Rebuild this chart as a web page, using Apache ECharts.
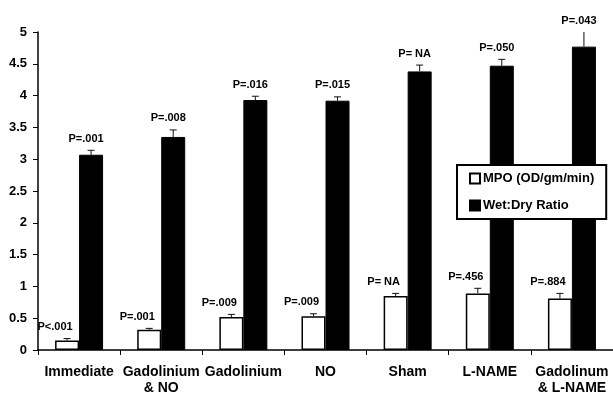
<!DOCTYPE html>
<html>
<head>
<meta charset="utf-8">
<script src="https://cdn.jsdelivr.net/npm/echarts@6/dist/echarts.min.js"></script>
<style>
html,body{margin:0;padding:0;background:#fff;}
#chart{width:613px;height:396px;}
</style>
</head>
<body>
<div id="chart"></div>
<script>
var categories = ['Immediate', 'Gadolinium\n& NO', 'Gadolinium', 'NO', 'Sham', 'L-NAME', 'Gadolinum\n& L-NAME'];
var mpo = [0.15, 0.32, 0.52, 0.53, 0.85, 0.89, 0.81];
var mpoErr = [0.03, 0.02, 0.04, 0.04, 0.04, 0.08, 0.08];
var wetDry = [3.07, 3.35, 3.93, 3.92, 4.38, 4.47, 4.77];
var wetDryErr = [0.07, 0.11, 0.06, 0.06, 0.10, 0.10, 0.23];
var mpoP = ['P<.001', 'P=.001', 'P=.009', 'P=.009', 'P= NA', 'P=.456', 'P=.884'];
var wetDryP = ['P=.001', 'P=.008', 'P=.016', 'P=.015', 'P= NA', 'P=.050', 'P=.043'];

var FONT = '"Liberation Sans", Arial, sans-serif';
var BAR_W = 24;

function errSeries(name, values, errs, labels, side, labelShift) {
  return {
    type: 'custom',
    name: name + ' err',
    z: 5,
    clip: false,
    silent: true,
    data: values.map(function (v, i) { return [i, v, errs[i]]; }),
    encode: { x: 0, y: 1 },
    renderItem: function (params, api) {
      var i = api.value(0), v = api.value(1), e = api.value(2);
      var base = api.coord([i, v]);
      var topP = api.coord([i, v + e]);
      var cx = base[0] + side * BAR_W / 2;
      var children = [
        { type: 'line', shape: { x1: cx, y1: base[1], x2: cx, y2: topP[1] },
          style: { stroke: '#111', lineWidth: 1 } }
      ];
      if (e < 0.2) {
        children.push({ type: 'line', shape: { x1: cx - 3.5, y1: topP[1], x2: cx + 3.5, y2: topP[1] },
          style: { stroke: '#111', lineWidth: 1 } });
      }
      children.push({
        type: 'text',
        style: {
          x: cx + labelShift, y: topP[1] - 6,
          text: labels[params.dataIndex],
          fill: '#000',
          font: 'bold 11px ' + FONT,
          align: 'center', verticalAlign: 'bottom'
        }
      });
      return { type: 'group', children: children };
    }
  };
}

var chart = echarts.init(document.getElementById('chart'));
chart.setOption({
  backgroundColor: '#fff',
  animation: false,
  grid: { left: 38, right: -4, top: 32, bottom: 46 },
  legend: {
    orient: 'vertical',
    left: 457, top: 165,
    width: 152,
    padding: [7, 12, 7, 12],
    itemGap: 14,
    itemWidth: 10, itemHeight: 10,
    backgroundColor: '#fff',
    borderColor: '#000',
    borderWidth: 2,
    z: 10,
    textStyle: { fontFamily: FONT, fontWeight: 'bold', fontSize: 13, color: '#000', padding: [0, 0, 0, -2] },
    data: [
      { name: 'MPO (OD/gm/min)', icon: 'rect' },
      { name: 'Wet:Dry Ratio', icon: 'rect' }
    ]
  },
  xAxis: {
    type: 'category',
    data: categories,
    axisLine: { lineStyle: { color: '#000', width: 1.5 } },
    axisTick: { show: true, length: 5, lineStyle: { color: '#000' } },
    axisLabel: { color: '#000', fontFamily: FONT, fontWeight: 'bold', fontSize: 14, margin: 14, lineHeight: 16, interval: 0 }
  },
  yAxis: {
    type: 'value',
    min: 0, max: 5, interval: 0.5,
    axisLine: { show: true, lineStyle: { color: '#000', width: 1.5 } },
    axisTick: { show: true, length: 5, lineStyle: { color: '#000' } },
    splitLine: { show: false },
    axisLabel: { color: '#000', fontFamily: FONT, fontWeight: 'bold', fontSize: 13, margin: 11 }
  },
  series: [
    {
      name: 'MPO (OD/gm/min)', type: 'bar', data: mpo,
      barWidth: BAR_W, barGap: '0%',
      itemStyle: { color: '#fff', borderColor: '#000', borderWidth: 1.5 }
    },
    {
      name: 'Wet:Dry Ratio', type: 'bar', data: wetDry,
      barWidth: BAR_W, barGap: '0%',
      itemStyle: { color: '#000', borderColor: '#000', borderWidth: 1 }
    },
    errSeries('MPO', mpo, mpoErr, mpoP, -1, -12),
    errSeries('WD', wetDry, wetDryErr, wetDryP, 1, -5)
  ]
});
</script>
</body>
</html>
